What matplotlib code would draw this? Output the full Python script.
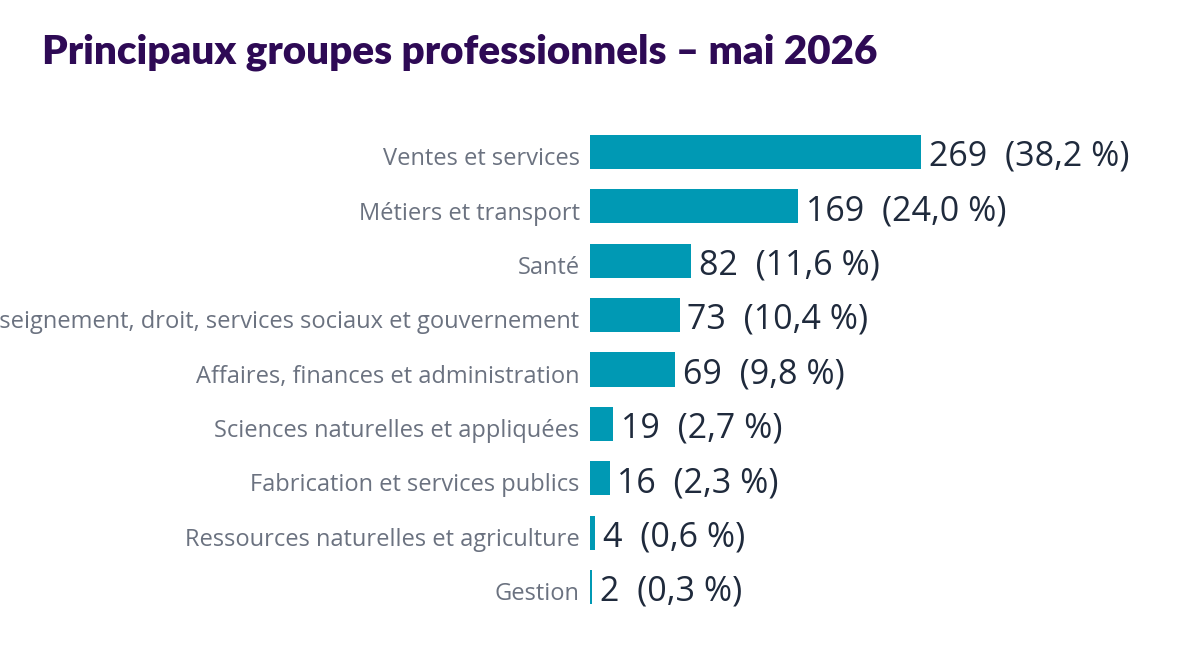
import matplotlib
matplotlib.use("Agg")
import matplotlib.pyplot as plt

categories = [
    "Ventes et services",
    "Métiers et transport",
    "Santé",
    "Enseignement, droit, services sociaux et gouvernement",
    "Affaires, finances et administration",
    "Sciences naturelles et appliquées",
    "Fabrication et services publics",
    "Ressources naturelles et agriculture",
    "Gestion",
]
values = [269, 169, 82, 73, 69, 19, 16, 4, 2]
percents = ["38,2", "24,0", "11,6", "10,4", "9,8", "2,7", "2,3", "0,6", "0,3"]
title = "Principaux groupes professionnels – mai 2026"

W, H = 1180, 660
fig = plt.figure(figsize=(W / 100, H / 100), dpi=100)
fig.patch.set_facecolor("white")

left_px, right_px = 590, 1170
top_px, bot_px = 124.8, 614.2
ax = fig.add_axes([left_px / W, 1 - bot_px / H, (right_px - left_px) / W, (bot_px - top_px) / H])
ax.set_xlim(0, (right_px - left_px) / (331 / 269))
ax.set_ylim(len(categories) - 0.5, -0.5)

ypos = list(range(len(categories)))
ax.barh(ypos, values, height=0.63, color="#0099b4")

for y, v, p in zip(ypos, values, percents):
    ax.annotate(f"{v}  ({p} %)", xy=(v, y), xytext=(5.5, -3.5), textcoords="offset points",
                ha="left", va="center", fontsize=24.5, color="#1f2a3c", family="Open Sans")

for y, c in zip(ypos, categories):
    ax.annotate(c, xy=(0, y), xycoords=("axes fraction", "data"), xytext=(-7.5, -3),
                textcoords="offset points", ha="right", va="center_baseline",
                fontsize=17, color="#6b7280", family="Open Sans", annotation_clip=False)

ax.set_yticks([])
ax.set_xticks([])
for s in ax.spines.values():
    s.set_visible(False)

fig.text(42 / W, 1 - 52 / H, title, fontsize=29.1, fontweight="heavy", color="#2e0a55",
         family="Lato", ha="left", va="center")

fig.savefig("out.png", dpi=100, facecolor="white")
